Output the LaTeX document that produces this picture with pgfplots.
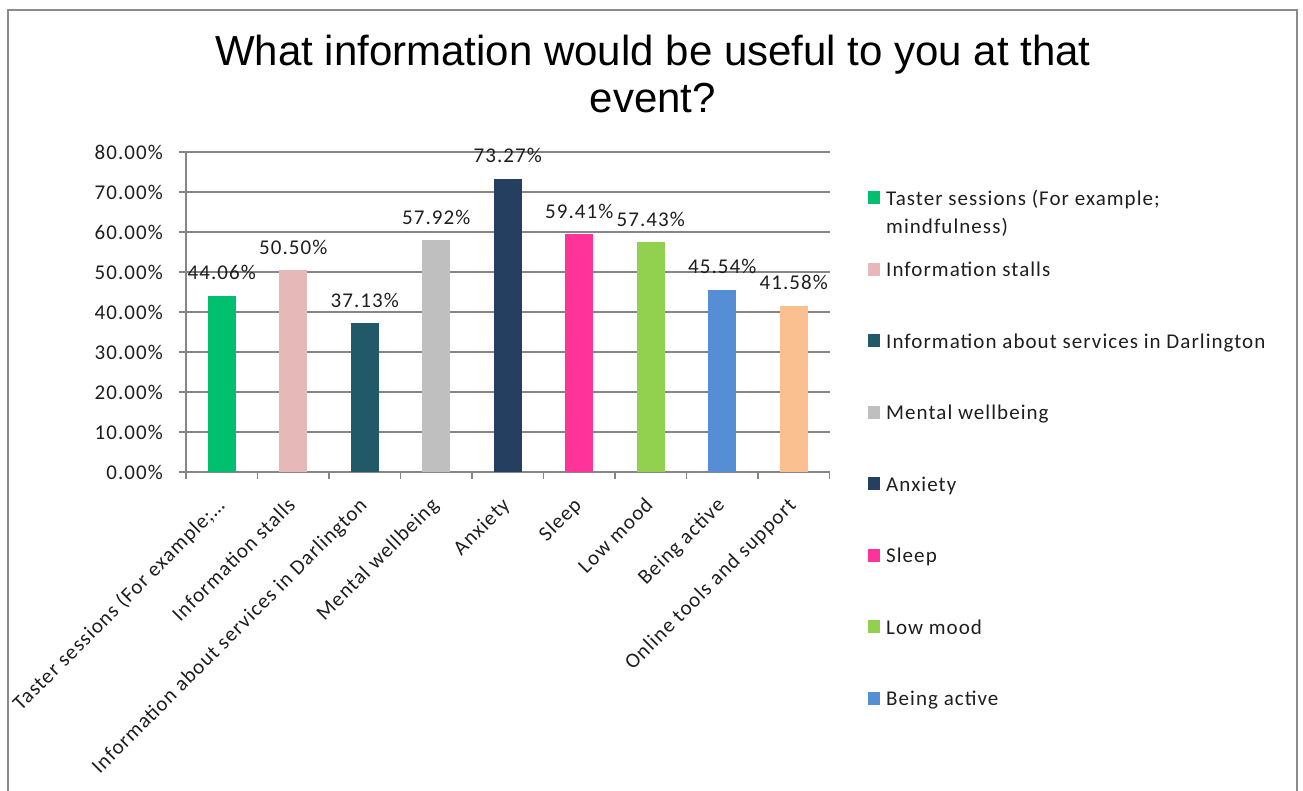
\documentclass[border=0pt]{standalone}
\usepackage{pgfplots}
\pgfplotsset{compat=1.18}
\usepackage{fontspec}
\setmainfont{Carlito}[LetterSpace=5]
\newfontfamily\titlefont{Liberation Sans}
\definecolor{c1}{HTML}{00BF6F}
\definecolor{c2}{HTML}{E6B8B7}
\definecolor{c3}{HTML}{215968}
\definecolor{c4}{HTML}{BFBFBF}
\definecolor{c5}{HTML}{243F60}
\definecolor{c6}{HTML}{FF3399}
\definecolor{c7}{HTML}{92D050}
\definecolor{c8}{HTML}{558ED5}
\definecolor{c9}{HTML}{FAC090}
\definecolor{axgray}{HTML}{868686}
\definecolor{framegray}{HTML}{8C8C8C}
\definecolor{txt}{HTML}{1E1E1E}
\newcommand\lab{\fontsize{21}{25}\selectfont}
\newcommand\tasterlab{Taster sessions (For example;\ldots}
\pgfplotsset{mybar/.style={ybar, bar width=28pt, bar shift=0pt, draw=none, fill=#1}}
\begin{document}
\begin{tikzpicture}[x=1pt,y=1pt]
\path[use as bounding box] (0,0) rectangle (1303,-791);
\draw[framegray, line width=1.5pt] (8,-10) rectangle (1297,-830);
\begin{axis}[
  at={(186pt,-472pt)}, anchor=south west,
  scale only axis, width=643.5pt, height=320pt,
  xmin=-0.5, xmax=8.5, ymin=0, ymax=80,
  axis x line*=bottom, axis y line*=left,
  axis line style={draw=axgray, line width=1.3pt, -},
  ymajorgrids, grid style={draw=axgray, line width=1.3pt},
  tick align=outside, major tick length=7pt,
  tick style={draw=axgray, line width=1.3pt},
  /pgf/number format/assume math mode=true,
  font=\lab, text=txt,
  ytick={0,10,...,80},
  yticklabels={0.00\%,10.00\%,20.00\%,30.00\%,40.00\%,50.00\%,60.00\%,70.00\%,80.00\%},
  yticklabel style={inner sep=0pt, xshift=-16pt, font=\lab, text=txt},
  xtick={-0.5,0.5,...,8.5},
  xticklabels={},
  extra x ticks={0,1,2,3,4,5,6,7,8},
  extra x tick labels={\tasterlab,Information stalls,Information about services in Darlington,Mental wellbeing,Anxiety,Sleep,Low mood,Being active,Online tools and support},
  extra x tick style={major tick length=0pt, xticklabel style={xshift=-7pt, yshift=-24pt, rotate=45, anchor=north east, inner sep=0pt, font=\lab, text=txt}},
  nodes near coords={\pgfmathprintnumber[fixed,fixed zerofill,precision=2]{\pgfplotspointmeta}\%},
  every node near coord/.append style={anchor=base, yshift=16pt, inner sep=0pt, font=\lab, text=txt},
  title={What information would be useful to you at that\\event?},
  title style={at={(0.7257,1.10625)}, anchor=base, align=center, inner sep=0pt, font=\titlefont\fontsize{42}{47}\selectfont, text=black},
  legend image code/.code={\fill[#1] (0pt,1pt) rectangle (12pt,14pt);},
  legend cell align=left,
  legend style={at={(1.0598,0.8875)}, anchor=north west, draw=none, fill=none, inner sep=0pt, row sep=0pt, column sep=6pt, font=\lab, text=txt, cells={anchor=base west}, nodes={inner sep=0pt, text height=17pt, text depth=54.5pt}},
]
\addplot[mybar=c1] coordinates {(0,44.06)};
\addlegendentry{\smash{\parbox[t]{400pt}{\baselineskip=28pt Taster sessions (For example;\\mindfulness)}}}
\addplot[mybar=c2] coordinates {(1,50.50)};
\addlegendentry{Information stalls}
\addplot[mybar=c3] coordinates {(2,37.13)};
\addlegendentry{Information about services in Darlington}
\addplot[mybar=c4] coordinates {(3,57.92)};
\addlegendentry{Mental wellbeing}
\addplot[mybar=c5] coordinates {(4,73.27)};
\addlegendentry{Anxiety}
\addplot[mybar=c6] coordinates {(5,59.41)};
\addlegendentry{Sleep}
\addplot[mybar=c7] coordinates {(6,57.43)};
\addlegendentry{Low mood}
\addplot[mybar=c8] coordinates {(7,45.54)};
\addlegendentry{Being active}
\addplot[mybar=c9] coordinates {(8,41.58)};
\end{axis}
\end{tikzpicture}
\end{document}
